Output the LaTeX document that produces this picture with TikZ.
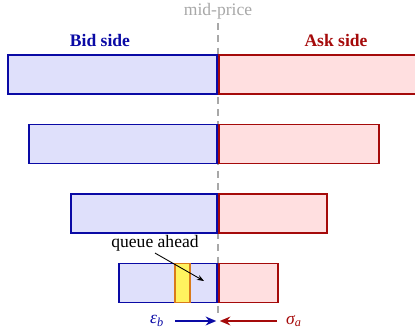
\documentclass[tikz,border=0pt]{standalone}
\usepackage{fontspec}
\setmainfont{Liberation Serif}
\usetikzlibrary{arrows.meta,positioning}
\definecolor{bidline}{HTML}{0A0AA5}
\definecolor{bidfill}{HTML}{DFE0FB}
\definecolor{askline}{HTML}{A50A0A}
\definecolor{askfill}{HTML}{FFDFE0}
\definecolor{midgray}{HTML}{A8A8A8}
\definecolor{qfill}{HTML}{FFF35F}
\definecolor{qline}{HTML}{D97A1A}
\tikzset{
  bar/.style={line width=1.1pt,inner sep=0pt,minimum height=39*0.02cm},
  bidbar/.style={bar,draw=bidline,fill=bidfill,anchor=east,minimum width=#1*0.02cm},
  askbar/.style={bar,draw=askline,fill=askfill,anchor=west,minimum width=#1*0.02cm},
  qbox/.style={bar,draw=qline,fill=qfill,minimum width=15*0.02cm},
  side/.style={font=\bfseries,inner sep=1pt},
  midln/.style={draw=midgray,line width=1pt,dash pattern=on 4pt off 3pt},
  plain/.style={inner sep=1pt,text=black},
  pin/.style={-{Stealth[length=4pt,width=3pt]},draw=black,line width=.5pt},
  bidar/.style={-{Stealth[length=6pt,width=5pt]},draw=bidline,line width=1.3pt},
  askar/.style={-{Stealth[length=6pt,width=5pt]},draw=askline,line width=1.3pt},
}
\begin{document}
\begin{tikzpicture}[x=0.02cm,y=0.02cm]
  \clip (0,0) rectangle (415,334);
  % ── mid-price ──
  \node[plain,text=midgray] (midlbl) at (218,323) {mid-price};
  \coordinate (midtop) at (218,311);
  \coordinate (midbot) at (218,18);
  \draw[midln] (midtop) -- (midbot);

  \node[side,text=bidline] (bidlbl) at (100,294) {Bid side};
  \node[side,text=askline] (asklbl) at (336,294) {Ask side};

  % ── the book, one row per price level ──
  \foreach \i/\wb/\wa/\yy in {1/209/200/259.5,2/188/160/190,3/146/108/120.5,4/98/59/51} {
    \node[bidbar=\wb] (bid\i) at (218,\yy) {};
    \node[askbar=\wa] (ask\i) at (218,\yy) {};
  }

  % our order in the queue
  \node[qbox] (queue) at (182.3,51) {};
  \node[plain] (qlbl) at (155,91) {queue ahead};
  \coordinate (qtip) at (204,53);
  \draw[pin] (qlbl.south) -- (qtip);

  % ── spreads ──
  \coordinate (meet) at (218,13);
  \coordinate (bstart) at (175,13);
  \coordinate (astart) at (277,13);
  \node[plain,text=bidline,left=5pt of bstart] (epsb) {\itshape ε\textsubscript{b}};
  \node[plain,text=askline,right=4pt of astart] (siga) {\itshape σ\textsubscript{a}};
  \draw[bidar] (bstart) -- ([xshift=-1pt]meet);
  \draw[askar] (astart) -- ([xshift=1pt]meet);
\end{tikzpicture}
\end{document}
